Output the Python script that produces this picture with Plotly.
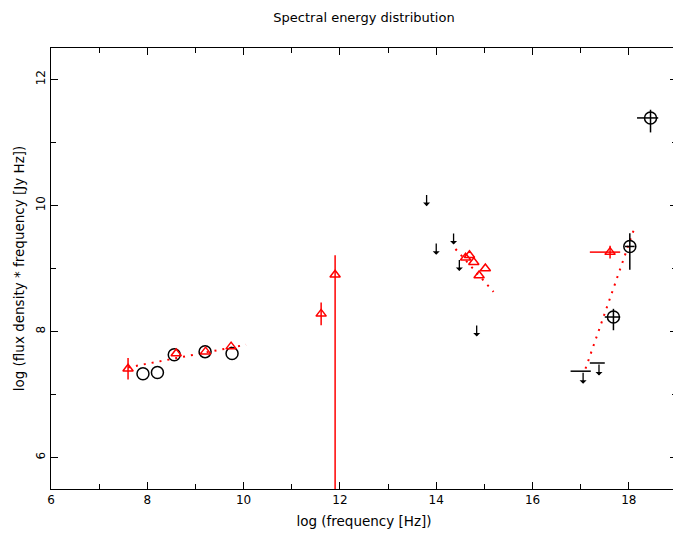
import plotly.graph_objects as go

# black open circles (radio)
circ_x = [7.91, 8.21, 8.56, 9.20, 9.76]
circ_y = [7.33, 7.35, 7.63, 7.68, 7.65]

# red triangles
tri_x = [7.60, 8.60, 9.21, 9.74, 11.61, 11.90, 14.61, 14.69, 14.78, 14.89, 15.02, 17.61]
tri_y = [7.41, 7.65, 7.68, 7.76, 8.28, 8.90, 9.17, 9.21, 9.10, 8.89, 9.00, 9.26]
tri_ey_plus = [0.17, 0, 0, 0, 0.18, 0.31, 0, 0, 0, 0, 0, 0.10]
tri_ey_minus = [0.17, 0, 0, 0, 0.18, 4.00, 0, 0, 0, 0, 0, 0.10]
tri_ex_plus = [0, 0, 0, 0, 0, 0, 0, 0, 0, 0, 0, 0.21]
tri_ex_minus = [0, 0, 0, 0, 0, 0, 0, 0, 0, 0, 0, 0.42]

# black circles with crosshair errors (X-ray)
xr_x = [17.68, 18.02, 18.45]
xr_y = [8.23, 9.35, 11.39]
xr_ey_plus = [0.13, 0.21, 0.13]
xr_ey_minus = [0.21, 0.37, 0.23]
xr_ex_plus = [0.14, 0.10, 0.16]
xr_ex_minus = [0.18, 0.10, 0.28]

# upper limits (arrows)
ul_x = [13.80, 14.00, 14.36, 14.48, 14.84, 17.05, 17.38]
ul_y = [10.19, 9.42, 9.58, 9.16, 8.12, 7.37, 7.50]
ul_ex_plus = [0, 0, 0, 0, 0, 0.16, 0.12]
ul_ex_minus = [0, 0, 0, 0, 0, 0.26, 0.19]
ul_len = 0.2

# fitted lines
fit1_x = [7.60, 10.05]
fit1_y = [7.43, 7.79]
fit2_x = [14.40, 15.19]
fit2_y = [9.31, 8.63]
fit3_x = [17.10, 18.11]
fit3_y = [7.41, 9.63]

ink = 'black'
red = 'red'
face = 'DejaVu Sans'

fig = go.Figure()

for fx, fy in [(fit1_x, fit1_y), (fit2_x, fit2_y), (fit3_x, fit3_y)]:
    fig.add_trace(go.Scatter(x=fx, y=fy, mode='lines',
                             line=dict(color=red, width=2, dash='2px,6px'),
                             hoverinfo='skip'))

fig.add_trace(go.Scatter(x=circ_x, y=circ_y, mode='markers',
                         marker=dict(symbol='circle-open', size=12, color=ink,
                                     line=dict(width=1.5))))

fig.add_trace(go.Scatter(x=tri_x, y=tri_y, mode='markers',
                         marker=dict(symbol='triangle-up-open', size=9, color=red,
                                     line=dict(width=1.5)),
                         error_y=dict(type='data', symmetric=False, array=tri_ey_plus,
                                      arrayminus=tri_ey_minus, width=0, thickness=1.5, color=red),
                         error_x=dict(type='data', symmetric=False, array=tri_ex_plus,
                                      arrayminus=tri_ex_minus, width=0, thickness=1.5, color=red)))

fig.add_trace(go.Scatter(x=xr_x, y=xr_y, mode='markers',
                         marker=dict(symbol='circle-open', size=12, color=ink,
                                     line=dict(width=1.5)),
                         error_y=dict(type='data', symmetric=False, array=xr_ey_plus,
                                      arrayminus=xr_ey_minus, width=0, thickness=1.5, color=ink),
                         error_x=dict(type='data', symmetric=False, array=xr_ex_plus,
                                      arrayminus=xr_ex_minus, width=0, thickness=1.5, color=ink)))

# horizontal bars of the upper limits
fig.add_trace(go.Scatter(x=ul_x, y=ul_y, mode='markers',
                         marker=dict(size=1, color='rgba(0,0,0,0)'),
                         error_x=dict(type='data', symmetric=False, array=ul_ex_plus,
                                      arrayminus=ul_ex_minus, width=0, thickness=1.5, color=ink)))

for ux, uy in zip(ul_x, ul_y):
    fig.add_annotation(x=ux, y=uy - ul_len, ax=ux, ay=uy, xref='x', yref='y',
                       axref='x', ayref='y', text='', showarrow=True,
                       arrowhead=1, arrowsize=0.9, arrowwidth=1.3, arrowcolor=ink,
                       standoff=0, startstandoff=0)

# page has an 8px body margin, so the figure is shrunk by that offset
fig.update_layout(width=673, height=529,
                  margin=dict(l=43, r=4, t=40, b=48, autoexpand=False),
                  plot_bgcolor='white', paper_bgcolor='white',
                  showlegend=False,
                  font=dict(family=face, size=12, color=ink),
                  title=dict(text='Spectral energy distribution', xref='paper', x=0.5,
                             xanchor='center', yref='container', y=0.983,
                             yanchor='middle', font=dict(size=13)))

fig.update_xaxes(range=[6, 19], showline=True, linecolor=ink, linewidth=1, mirror='ticks',
                 ticks='inside', ticklen=7, tickcolor=ink, dtick=2, tick0=6,
                 minor=dict(ticks='inside', ticklen=5, dtick=1, tickcolor=ink),
                 showgrid=False, zeroline=False, automargin=False,
                 title=dict(text='log (frequency [Hz])', standoff=10, font=dict(size=13.5)))
fig.update_yaxes(range=[5.5, 12.5], showline=True, linecolor=ink, linewidth=1, mirror='ticks',
                 ticks='inside', ticklen=7, tickcolor=ink, dtick=2, tick0=6, tickangle=-90,
                 minor=dict(ticks='inside', ticklen=5, dtick=1, tickcolor=ink),
                 showgrid=False, zeroline=False, automargin=False,
                 title=dict(text='log (flux density * frequency [Jy Hz])', standoff=6,
                            font=dict(size=13.5)))

fig.write_html("out.html")
